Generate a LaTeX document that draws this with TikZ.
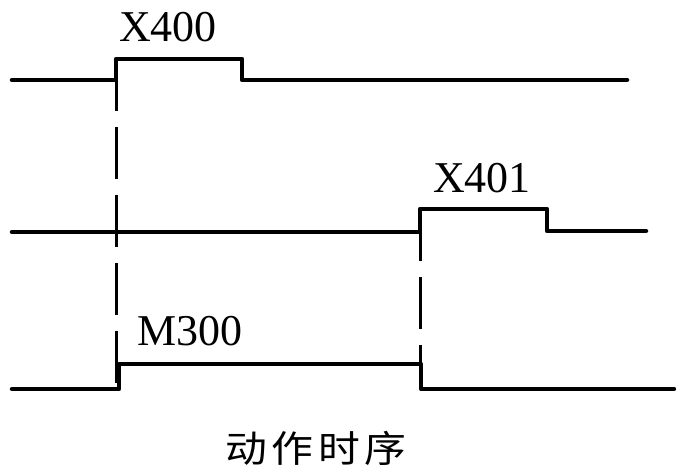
\documentclass[tikz,border=0pt]{standalone}
\usepackage{fontspec}
\usepackage{graphicx}
\setmainfont{Liberation Serif}
\newfontfamily\cjk{Noto Sans CJK SC}
\begin{document}
\begin{tikzpicture}[x=1pt,y=-1pt,
  wave/.style={line width=4.5pt, line join=round, line cap=round},
  guide/.style={line width=3pt, dash pattern=on 52pt off 16pt},
  lbl/.style={font=\fontsize{44}{44}\selectfont, anchor=base west, inner sep=0pt},
  captiontext/.style={font=\cjk\fontsize{37}{37}\selectfont, inner sep=0pt}]
\useasboundingbox (0,0) rectangle (676,474);
% guide coordinates
\coordinate (g1t) at (116,59);
\coordinate (g1b) at (116,389);
\coordinate (g2t) at (420,209);
\coordinate (g2b) at (420,389);
\draw[guide] (g1t) -- (g1b);
\draw[guide] (g2t) -- (g2b);
% waveform X400
\draw[wave] (12,80) -- (116,80) -- (116,59) -- (242,59) -- (242,80) -- (627,80);
% waveform X401
\draw[wave] (12,232) -- (420,232) -- (420,209) -- (547,209) -- (547,231) -- (646,231);
% waveform M300
\draw[wave] (12,389) -- (119,389) -- (119,364) -- (421,364) -- (421,389) -- (674,389);
% labels
\node[lbl] (lx400) at (119,41) {X400};
\node[lbl] (lx401) at (433,192) {X401};
\node[lbl] (lm300) at (137,345) {M300};
\node[captiontext] (title) at (316,448) {\scalebox{1.13}[1]{动\hspace{4pt}作\hspace{4pt}时\hspace{4pt}序}};
\end{tikzpicture}
\end{document}
